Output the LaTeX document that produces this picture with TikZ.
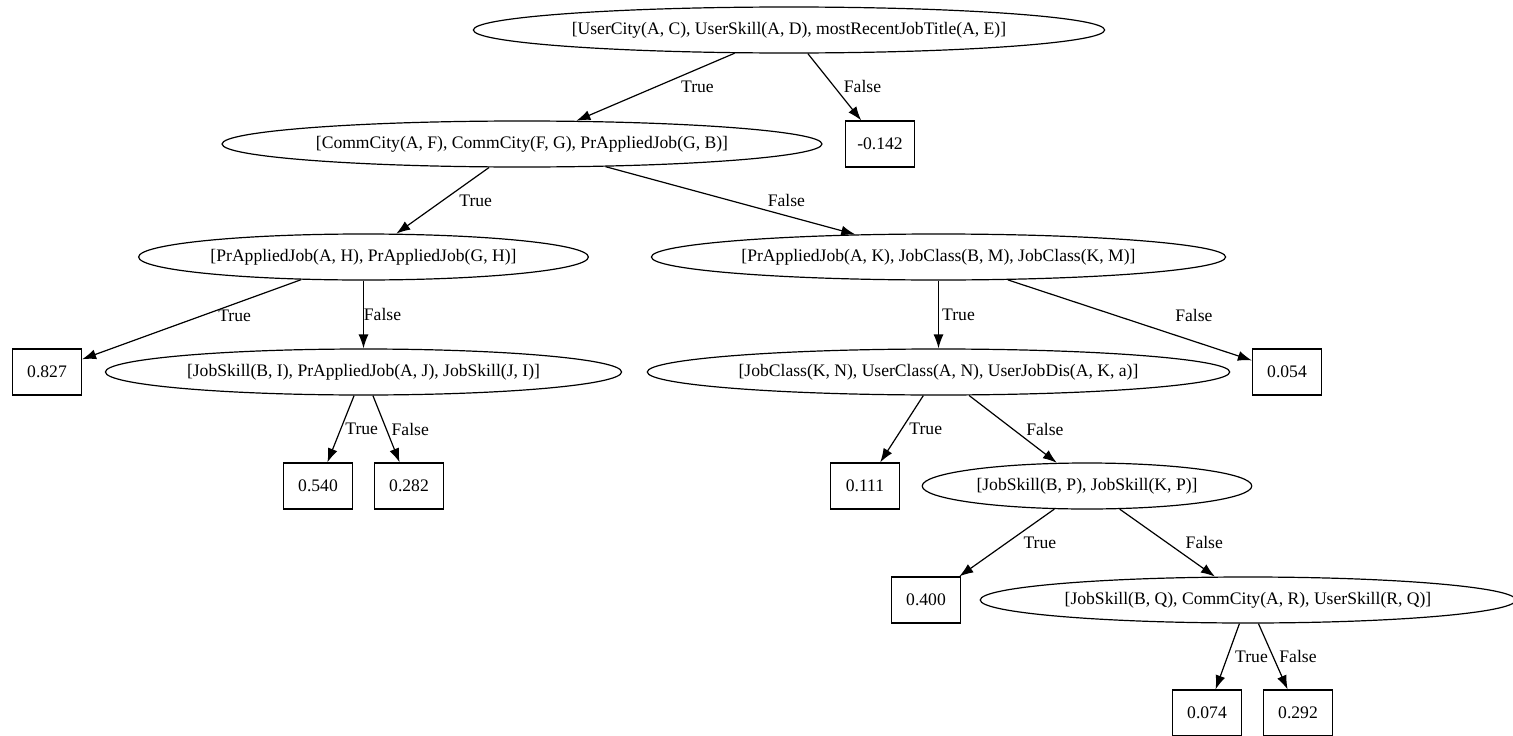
\documentclass[tikz,border=0pt]{standalone}
\usepackage{fontspec}
\setmainfont{Liberation Serif}
\usetikzlibrary{arrows.meta,shapes.geometric}

\begin{document}
\begin{tikzpicture}[x=1pt,y=-1pt,->,>={Latex[length=14pt,width=10pt]},line width=1.2pt,
  font=\fontsize{17.6}{21}\selectfont,
  cond node/.style={ellipse,draw,inner xsep=6pt,inner ysep=2pt,minimum height=46pt},
  leaf node/.style={rectangle,draw,minimum width=69pt,minimum height=46pt},
  lbl/.style={midway,inner sep=0pt}]

  \useasboundingbox (0,0) rectangle (1513,736);

  \node[cond node] (C0) at (789,30) {[UserCity(A, C), UserSkill(A, D), mostRecentJobTitle(A, E)]};
  \node[cond node] (C1) at (522,144) {[CommCity(A, F), CommCity(F, G), PrAppliedJob(G, B)]};
  \node[leaf node] (W1) at (880,144) {-0.142};

  \node[cond node] (C2) at (363.5,257) {[PrAppliedJob(A, H), PrAppliedJob(G, H)]};
  \node[cond node] (C3) at (938.5,257) {[PrAppliedJob(A, K), JobClass(B, M), JobClass(K, M)]};

  \node[leaf node] (W2) at (47,372) {0.827};
  \node[cond node] (C4) at (363.5,372) {[JobSkill(B, I), PrAppliedJob(A, J), JobSkill(J, I)]};
  \node[cond node] (C5) at (938.5,372) {[JobClass(K, N), UserClass(A, N), UserJobDis(A, K, a)]};
  \node[leaf node] (W3) at (1287,372) {0.054};

  \node[leaf node] (W4) at (318,486) {0.540};
  \node[leaf node] (W5) at (409,486) {0.282};
  \node[leaf node] (W6) at (865,486) {0.111};
  \node[cond node] (C6) at (1087,486) {[JobSkill(B, P), JobSkill(K, P)]};

  \node[leaf node] (W7) at (926,600) {0.400};
  \node[cond node] (C7) at (1248,600) {[JobSkill(B, Q), CommCity(A, R), UserSkill(R, Q)]};

  \node[leaf node] (W8) at (1207,713) {0.074};
  \node[leaf node] (W9) at (1298,713) {0.292};

%branches racine
  \draw (C0) -- node[lbl,xshift=42pt] {True} (C1);
  \draw (C0) -- node[lbl,xshift=28pt] {False} (W1);

%branches niveau 1
  \draw (C1) -- node[lbl,xshift=33pt] {True} (C2);
  \draw (C1) -- node[lbl,xshift=56pt] {False} (C3);

%branches niveau 2
  \draw (C2) -- node[lbl,xshift=43pt,yshift=4pt] {True} (W2);
  \draw (C2) -- node[lbl,xshift=19pt] {False} (C4);
  \draw (C3) -- node[lbl,xshift=20pt] {True} (C5);
  \draw (C3) -- node[lbl,xshift=64pt,yshift=5pt] {False} (W3);

%branches niveau 3
  \draw (C4) -- node[lbl,xshift=21pt] {True} (W4);
  \draw (C4) -- node[lbl,xshift=24pt] {False} (W5);
  \draw (C5) -- node[lbl,xshift=24pt] {True} (W6);
  \draw (C5) -- node[lbl,xshift=32pt] {False} (C6);

%branches niveau 4
  \draw (C6) -- node[lbl,xshift=33pt] {True} (W7);
  \draw (C6) -- node[lbl,xshift=37pt] {False} (C7);

%branches niveau 5
  \draw (C7) -- node[lbl,xshift=24pt] {True} (W8);
  \draw (C7) -- node[lbl,xshift=25pt] {False} (W9);

\end{tikzpicture}
\end{document}
